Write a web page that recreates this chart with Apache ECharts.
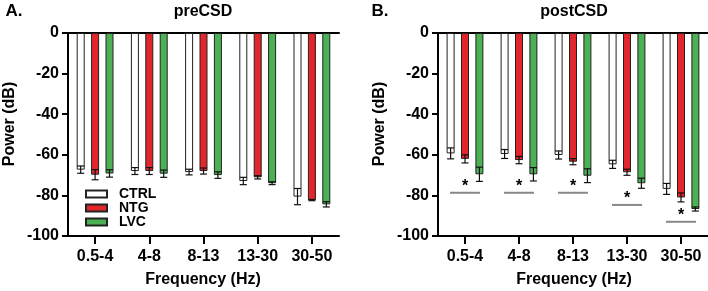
<!DOCTYPE html>
<html>
<head>
<meta charset="utf-8">
<script src="https://cdn.jsdelivr.net/npm/echarts@6/dist/echarts.min.js"></script>
<style>
  html, body { margin: 0; padding: 0; background: #fff; }
  #chart { width: 708px; height: 291px; }
</style>
</head>
<body>
<div id="chart"></div>
<script>
const categories = ['0.5-4', '4-8', '8-13', '13-30', '30-50']
const groups = ['CTRL', 'NTG', 'LVC']
const colors = ['#ffffff', '#e3262b', '#4cb054']

// preCSD (panel A)
const preCtrl = [-67.3, -68, -68.5, -72.9, -80.6]
const preCtrlErr = [1.8, 1.7, 1.4, 1.8, 4]
const preNtg = [-69.8, -68, -68, -71.1, -82.3]
const preNtgErr = [2.5, 1.7, 1.5, 0.8, 0.3]
const preLvc = [-69.2, -69.3, -70, -74, -84.4]
const preLvcErr = [1.8, 1.8, 1.6, 0.7, 1.3]

// postCSD (panel B)
const postCtrl = [-59.3, -59.6, -60.1, -64.7, -76.8]
const postCtrlErr = [2.7, 2.2, 2, 2, 2.7]
const postNtg = [-62, -62.6, -63.4, -68.6, -81]
const postNtgErr = [2, 1.8, 1.5, 1.5, 2.2]
const postLvc = [-69.6, -69.6, -70.3, -74, -86.7]
const postLvcErr = [3.5, 3.3, 3.4, 2.5, 1]
// height of the significance line under each group
const postSig = [-78.7, -78.7, -78.7, -84.7, -93]

const FONT = "'Liberation Sans', Arial, sans-serif"
const barOffsets = [-14.4, 0, 14.4]

const chart = echarts.init(document.getElementById('chart'))

const makeX = (grid, bottom) => ({
  type: 'category',
  gridIndex: grid,
  data: categories,
  position: bottom ? 'bottom' : 'top',
  axisLine: { onZero: false, lineStyle: { color: '#000', width: 2 } },
  axisTick: { show: bottom, alignWithLabel: true, length: 8, lineStyle: { color: '#000', width: 2 } },
  axisLabel: { show: bottom, margin: 13, color: '#000', fontWeight: 'bold', fontSize: 16, fontFamily: FONT }
})

const makeY = (grid) => ({
  type: 'value',
  gridIndex: grid,
  min: -100,
  max: 0,
  interval: 20,
  axisLine: { show: true, lineStyle: { color: '#000', width: 2 } },
  axisTick: { show: true, length: 6, lineStyle: { color: '#000', width: 2 } },
  axisLabel: { margin: 9, color: '#000', fontWeight: 'bold', fontSize: 16, fontFamily: FONT },
  splitLine: { show: false }
})

const barSeries = (name, vals, colorIdx, xIdx, yIdx) => ({
  name,
  type: 'bar',
  xAxisIndex: xIdx,
  yAxisIndex: yIdx,
  data: vals,
  barWidth: 8,
  barGap: '80%',
  itemStyle: { color: colors[colorIdx], borderColor: '#222', borderWidth: 1 }
})

const errSeries = (vals, errs, idx, xIdx, yIdx) => ({
  type: 'custom',
  xAxisIndex: xIdx,
  yAxisIndex: yIdx,
  z: 5,
  silent: true,
  data: vals.map((v, i) => [i, v - errs[i], v + errs[i]]),
  renderItem: (params, api) => {
    const x = api.coord([api.value(0), 0])[0] + barOffsets[idx]
    const lo = api.coord([api.value(0), api.value(1)])[1]
    const hi = api.coord([api.value(0), api.value(2)])[1]
    const style = { stroke: '#111', lineWidth: 1.2 }
    return {
      type: 'group',
      children: [
        { type: 'line', shape: { x1: x, y1: lo, x2: x, y2: hi }, style },
        { type: 'line', shape: { x1: x - 3.5, y1: lo, x2: x + 3.5, y2: lo }, style },
        { type: 'line', shape: { x1: x - 3.5, y1: hi, x2: x + 3.5, y2: hi }, style }
      ]
    }
  }
})

const sigSeries = {
  type: 'custom',
  xAxisIndex: 2,
  yAxisIndex: 1,
  silent: true,
  data: postSig.map((v, i) => [i, v]),
  renderItem: (params, api) => {
    const p = api.coord([api.value(0), api.value(1)])
    return {
      type: 'group',
      children: [
        { type: 'line', shape: { x1: p[0] - 15, y1: p[1], x2: p[0] + 15, y2: p[1] },
          style: { stroke: '#888', lineWidth: 2 } },
        { type: 'text', x: p[0], y: p[1] - 6,
          style: { text: '*', fill: '#000', font: 'bold 16px ' + FONT, align: 'center', verticalAlign: 'middle' } }
      ]
    }
  }
}

const txt = (text, x, y, size, extra) => Object.assign({
  type: 'text', x, y,
  style: { text, fill: '#000', font: 'bold ' + size + 'px ' + FONT, align: 'center', verticalAlign: 'middle' }
}, extra || {})

const option = {
  animation: false,
  backgroundColor: '#fff',
  grid: [
    { left: 68, top: 33, width: 271, height: 203 },
    { left: 438, top: 33, width: 271, height: 203 }
  ],
  xAxis: [makeX(0, true), makeX(0, false), makeX(1, true), makeX(1, false)],
  yAxis: [makeY(0), makeY(1)],
  legend: {
    data: groups,
    orient: 'vertical',
    left: 85,
    top: 187,
    padding: 0,
    itemWidth: 21,
    itemHeight: 7,
    itemGap: 0,
    icon: 'rect',
    textStyle: { color: '#000', fontWeight: 'bold', fontSize: 14, fontFamily: FONT, lineHeight: 13.5, padding: [0, 0, 0, 7] }
  },
  graphic: [
    txt('A.', 14, 11, 17),
    txt('B.', 380, 11, 17),
    txt('preCSD', 203, 12, 16),
    txt('postCSD', 574, 12, 16),
    txt('Frequency (Hz)', 203, 280, 16),
    txt('Frequency (Hz)', 574, 280, 16),
    txt('Power (dB)', 10, 124, 16, { rotation: Math.PI / 2 }),
    txt('Power (dB)', 380, 124, 16, { rotation: Math.PI / 2 })
  ],
  series: [
    barSeries('CTRL', preCtrl, 0, 0, 0),
    barSeries('NTG', preNtg, 1, 0, 0),
    barSeries('LVC', preLvc, 2, 0, 0),
    errSeries(preCtrl, preCtrlErr, 0, 0, 0),
    errSeries(preNtg, preNtgErr, 1, 0, 0),
    errSeries(preLvc, preLvcErr, 2, 0, 0),
    barSeries('CTRL', postCtrl, 0, 2, 1),
    barSeries('NTG', postNtg, 1, 2, 1),
    barSeries('LVC', postLvc, 2, 2, 1),
    errSeries(postCtrl, postCtrlErr, 0, 2, 1),
    errSeries(postNtg, postNtgErr, 1, 2, 1),
    errSeries(postLvc, postLvcErr, 2, 2, 1),
    sigSeries
  ]
}

chart.setOption(option)
</script>
</body>
</html>
